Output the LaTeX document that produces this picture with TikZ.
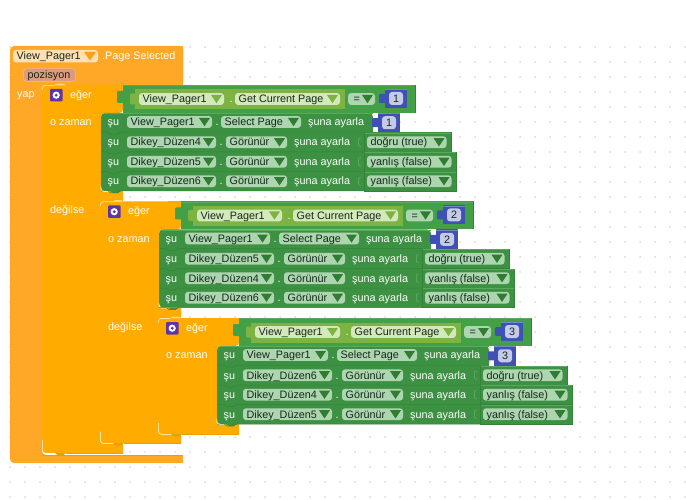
\documentclass[tikz,border=0pt]{standalone}
\usepackage{fontspec}
\setmainfont{Liberation Sans}
\definecolor{evo}{HTML}{FFA726}
\definecolor{ifo}{HTML}{FFAB00}
\definecolor{ifd}{HTML}{E8A000}
\definecolor{rowg}{HTML}{3D9142}
\definecolor{rowd}{HTML}{348239}
\definecolor{tridk}{HTML}{2E7D32}
\definecolor{rowl}{HTML}{5AA75E}
\definecolor{hdrg}{HTML}{43A047}
\definecolor{lime}{HTML}{7CB342}
\definecolor{limef}{HTML}{D3E9BC}
\definecolor{fldg}{HTML}{ADD5AF}
\definecolor{bluec}{HTML}{3F51B5}
\definecolor{bluef}{HTML}{C5CAE9}
\definecolor{txtd}{HTML}{14291A}
\definecolor{dotc}{HTML}{DADADA}
\definecolor{gearc}{HTML}{5E35A8}
\definecolor{pozf}{HTML}{DE9A7C}
\definecolor{pozb}{HTML}{F3B27E}
\definecolor{hfld}{HTML}{FFE0B2}
\definecolor{htri}{HTML}{F7A11D}
\newcounter{fc}
\tikzset{
  lbl/.style={font=\fontsize{10.8}{12}\selectfont,text=white,inner sep=0pt,anchor=base west},
  ftxt/.style={font=\fontsize{10.8}{12}\selectfont,inner sep=0pt,anchor=base west},
}
% #1 x0, #2 x1, #3 yc, #4 text, #5 fill, #6 triangle colour
\newcommand{\fld}[6]{%
  \fill[#5,rounded corners=3pt] (#1,#3-5.9) rectangle (#2,#3+5.9);
  \stepcounter{fc}%
  \node[ftxt,text=txtd,name=f\arabic{fc}] at (#1+3.5,#3+3.8) {#4};
  \fill[#6] (#2-13,#3-4) -- (#2-2,#3-4) -- (#2-7.5,#3+4.2) -- cycle;
}
\newcommand{\lab}[3]{%
  \stepcounter{fc}%
  \node[lbl,name=f\arabic{fc}] at (#1,#2+3.8) {#3};
}
% number block: #1 body x0, #2 top, #3 bottom, #4 digit
\newcommand{\numb}[4]{%
  \fill[bluec,rounded corners=1.2pt] (#1-6,#2/2+#3/2-4.5) rectangle (#1+1,#2/2+#3/2+4.5);
  \fill[bluec] (#1,#2) rectangle (#1+22,#3);
  \draw[white!30!bluec,line width=.5pt] (#1,#2+.3) -- (#1+22,#2+.3);
  \fill[bluef,rounded corners=3pt] (#1+4,#2/2+#3/2-6.5) rectangle (#1+18,#2/2+#3/2+6.5);
  \stepcounter{fc}%
  \node[ftxt,text=txtd,anchor=base,name=f\arabic{fc}] at (#1+11,#2/2+#3/2+3.8) {#4};
}
% property row: #1 top, #2 component, #3 value, #4 right edge
\newcommand{\vrow}[4]{%
  \pgfmathsetmacro{\yc}{#1+9.7}%
  \pgfmathsetmacro{\yb}{#1+19.5}%
  \fill[rowg] (364,#1) rectangle (#4,\yb);
  \draw[rowd,line width=.5pt] (364,#1) -- (364,\yb);
  \draw[rowl,line width=.5pt] (364.5,#1+.4) -- (#4,#1+.4);
  \draw[rowd,line width=.5pt] (#4,#1) -- (#4,\yb) -- (364,\yb);
  \draw[rowl,line width=.7pt,rounded corners=1pt] (361,\yc-4) -- (358.5,\yc-4) -- (358.5,\yc+4) -- (361,\yc+4);
  \lab{107.5}{\yc}{şu}
  \fld{127}{216}{\yc}{#2}{fldg}{tridk}
  \lab{219.5}{\yc}{.}
  \fld{226}{287}{\yc}{Görünür}{fldg}{tridk}
  \lab{294}{\yc}{şuna ayarla}
  \pgfmathsetmacro{\fe}{#4-4.5}%
  \fld{367}{\fe}{\yc}{#3}{fldg}{tridk}
  \draw[rowd,line width=.5pt] (101,\yb) -- (108,\yb) -- (111,\yb+2) -- (117,\yb+2) -- (120,\yb) -- (364,\yb);
}
% complete "if" group
% #1 number, #2 #3 #4 components, #5 #6 #7 values, #8 #9 right edges (true, false)
\newcommand{\ifgroup}[9]{%
  \fill[rowg,rounded corners=4pt] (101,113) -- (373,113) -- (373,191) -- (101,191) -- cycle;
  \fill[rowg] (110,191) -- (113,193) -- (118,193) -- (121,191) -- cycle;
  \draw[rowl,line width=.5pt] (104,113.3) -- (373,113.3);
  \draw[white,line width=.6pt,rounded corners=3pt] (100.8,186) -- (100.8,191.5) -- (109,191.5);
  % header value block
  \fill[hdrg,rounded corners=1.2pt] (117,91) rectangle (124,103);
  \fill[hdrg] (123,85) rectangle (415,113);
  \draw[rowl,line width=.5pt] (123,85.3) -- (415,85.3);
  \draw[rowd,line width=.5pt] (415,85) -- (415,113);
  \fill[lime,rounded corners=1.2pt] (130,93.5) rectangle (136,104.5);
  \fill[lime] (135,89.5) rectangle (345,109.5);
  \fld{139}{224}{99}{View\_Pager1}{limef}{lime}
  \lab{229.5}{99}{.}
  \fld{235}{340}{99}{Get Current Page}{limef}{lime}
  \fld{348}{375}{99}{\,=}{fldg}{tridk}
  \numb{385}{89}{108}{#1}
  % first statement row
  \lab{107.5}{122}{şu}
  \fld{127}{212}{122}{View\_Pager1}{fldg}{tridk}
  \lab{215.5}{122}{.}
  \fld{221}{301}{122}{Select Page}{fldg}{tridk}
  \lab{308}{122}{şuna ayarla}
  \draw[rowd,line width=.5pt] (101,132.2) -- (108,132.2) -- (111,134.2) -- (117,134.2) -- (120,132.2) -- (364,132.2);
  \numb{378}{113}{132.5}{#1}
  \vrow{132.5}{#2}{#5}{#8}
  \vrow{152}{#3}{#6}{#9}
  \vrow{171.5}{#4}{#7}{#9}
}
\newcommand{\ifhead}{%
  \fill[white!50!ifo] (54,85.4) -- (57,83.6) -- (63,83.6) -- (66,85.4) -- cycle;
  \draw[white!65!ifo,line width=.7pt,rounded corners=3pt] (42.3,90) -- (42.3,85.4) -- (54,85.4);
  \fill[gearc,rounded corners=1pt] (50,89) rectangle +(12.5,12.5);
  \fill[white] (56.2,95.2) circle (3.6pt);
  \fill[gearc] (56.2,95.2) circle (1.6pt);
  \lab{70}{94.5}{eğer}
  \lab{50}{122}{o zaman}
}
\begin{document}
\begin{tikzpicture}[x=1pt,y=-1pt]
\useasboundingbox (0,0) rectangle (686,500);
\fill[white] (0,0) rectangle (686,500);
\foreach \i in {0,...,45}{\foreach \j in {0,...,30}{\fill[dotc] (10+15*\i,47+15*\j) circle (1pt);}}
% event block
\fill[evo,rounded corners=4pt] (10,46) -- (183,46) -- (183,85) -- (42,85) -- (42,455) -- (183,455) -- (183,463) -- (10,463) -- cycle;
\fill[evo] (183,46) rectangle (100,60);
\fill[evo] (183,85) rectangle (100,60);
\fill[evo] (183,455) rectangle (100,463);
\fill[ifd] (42,455) rectangle (183,455.5);
\fill[hfld,rounded corners=3pt] (13,50) rectangle (98,62.5);
\stepcounter{fc}
\node[ftxt,text=txtd,name=f\arabic{fc}] at (16.5,60) {View\_Pager1};
\fill[htri] (84,52) -- (96,52) -- (90,60.5) -- cycle;
\lab{102}{56}{.Page Selected}
\fill[pozb,rounded corners=4pt] (23,68) rectangle (76,82);
\fill[pozf,rounded corners=3pt] (24,69) rectangle (75,81);
\stepcounter{fc}
\node[ftxt,text=txtd,name=f\arabic{fc}] at (27.5,78.5) {pozisyon};
\lab{17}{94}{yap}
% if 1
\fill[ifo,rounded corners=3.5pt] (42,85) -- (123,85) -- (123,113) -- (101,113) -- (101,191) -- (123,191) -- (123,201) -- (101,201) -- (101,443) -- (123,443) -- (123,453) -- (42,453) -- cycle;
\fill[ifo] (123,85) rectangle (110,100);
\fill[ifo] (123,453) rectangle (110,443);
\fill[ifo] (123,191) rectangle (95,201);
\fill[ifd] (55,453) -- (58,455.5) -- (63,455.5) -- (66,453) -- cycle;
\draw[white,line width=.6pt,rounded corners=3pt] (42.4,440) -- (42.4,453.3) -- (55,453.3);
\draw[ifd,line width=.5pt] (66,453.2) -- (123,453.2);
\ifhead
\lab{50}{210}{değilse}
\ifgroup{1}{Dikey\_Düzen4}{Dikey\_Düzen5}{Dikey\_Düzen6}{doğru (true)}{yanlış (false)}{yanlış (false)}{451}{456}
% if 2
\begin{scope}[shift={(58,116.5)}]
\fill[ifo,rounded corners=3.5pt] (42,85) -- (123,85) -- (123,113) -- (101,113) -- (101,191) -- (123,191) -- (123,201) -- (101,201) -- (101,316.5) -- (123,316.5) -- (123,326.5) -- (42,326.5) -- cycle;
\fill[ifo] (123,85) rectangle (110,100);
\fill[ifo] (123,326.5) rectangle (110,316.5);
\fill[ifo] (123,191) rectangle (95,201);
\fill[ifd] (55,326.5) -- (58,329) -- (63,329) -- (66,326.5) -- cycle;
\draw[white,line width=.6pt,rounded corners=3pt] (42.4,315) -- (42.4,326.8) -- (55,326.8);
\draw[ifd,line width=.5pt] (66,326.7) -- (123,326.7);
\ifhead
\lab{50}{210}{değilse}
\ifgroup{2}{Dikey\_Düzen5}{Dikey\_Düzen4}{Dikey\_Düzen6}{doğru (true)}{yanlış (false)}{yanlış (false)}{451}{456}
\end{scope}
% if 3
\begin{scope}[shift={(116,233)}]
\fill[ifo,rounded corners=3.5pt] (42,85) -- (123,85) -- (123,113) -- (101,113) -- (101,191) -- (123,191) -- (123,201) -- (42,201) -- cycle;
\fill[ifo] (123,85) rectangle (110,100);
\fill[ifo] (123,201) rectangle (110,191);
\fill[ifd] (55,201) -- (58,203.5) -- (63,203.5) -- (66,201) -- cycle;
\draw[white,line width=.6pt,rounded corners=3pt] (42.4,190) -- (42.4,201.3) -- (55,201.3);
\draw[ifd,line width=.5pt] (66,201.2) -- (123,201.2);
\ifhead
\ifgroup{3}{Dikey\_Düzen6}{Dikey\_Düzen4}{Dikey\_Düzen5}{doğru (true)}{yanlış (false)}{yanlış (false)}{451}{456}
\end{scope}
\end{tikzpicture}
\end{document}
